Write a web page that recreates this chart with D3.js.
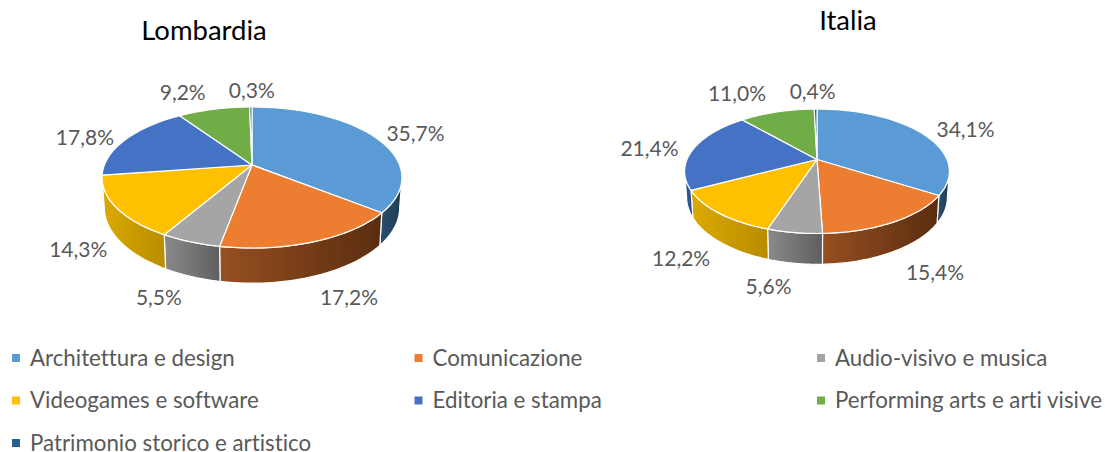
<!DOCTYPE html>
<html><head><meta charset="utf-8">
<script src="https://cdn.jsdelivr.net/npm/d3@7"></script>
<style>html,body{margin:0;padding:0;background:#fff;overflow:hidden}svg{display:block}text{font-family:Lato,"Open Sans",sans-serif;font-variant-ligatures:none}</style>
</head><body><svg id="c" width="1105" height="452"></svg>
<script>
const categories = ["Architettura e design","Comunicazione","Audio-visivo e musica","Videogames e software","Editoria e stampa","Performing arts e arti visive","Patrimonio storico e artistico"];
const lombardiaValues = [35.7,17.2,5.5,14.3,17.8,9.2,0.3];
const italiaValues = [34.1,15.4,5.6,12.2,21.4,11.0,0.4];
const colors = ["#5b9bd5","#ed7d31","#a5a5a5","#ffc000","#4472c4","#70ad47","#255e91"];
const wallLeft = ["#2a5070","#964f20","#8a8a8a","#dcaa00","#32589c","#4f7d32","#1c466c"];
const wallRight = ["#1f3b53","#5a2d10","#5f5f5f","#b88c00","#2a4d88","#456e2c","#173a5a"];

const charts = [
  {title:"Lombardia", values:lombardiaValues, titleX:204, titleY:30, cx:252, y0:165, R:147.6, S:68.3, k:0.177, d:29,
   nudge:[[40,-3.5],[35,56],[-31.6,56],[-38,42.6],[-41,-2],[-31,-17],[1,-16]]},
  {title:"Italia", values:italiaValues, titleX:848, titleY:20, cx:817, y0:159.5, R:130, S:60, k:0.189, d:25,
   nudge:[[44,-3],[41,51],[-26,54],[-38,45],[-44,0],[-40,-18],[-3,-17]]}
];
const svg = d3.select("#c");
const defs = svg.append("defs");
const fmt = v => v.toFixed(1).replace(".",",") + "%";
const pie = d3.pie().sort(null).value(d=>d);
const line = d3.line();

charts.forEach((ch,ci)=>{
  const g = svg.append("g");
  const top = t=>{const u=Math.sin(t),v=Math.cos(t),den=1+ch.k*v;return [ch.cx+ch.R*u/den, ch.y0-ch.S*v/den];};
  const bot = t=>{const u=Math.sin(t),v=Math.cos(t),den=1+ch.k*v;return [ch.cx+0.985*ch.R*u/den, ch.y0-ch.S*v/den+ch.d/den];};
  const samples=(a,b)=>d3.range(0,41).map(i=>a+(b-a)*i/40);
  const arcs = pie(ch.values);
  const vis0 = Math.acos(-ch.k), vis1 = 2*Math.PI-vis0;
  // side walls
  arcs.forEach((a,i)=>{
    const s=Math.max(a.startAngle,vis0), e=Math.min(a.endAngle,vis1);
    if(e<=s) return;
    const ts=samples(s,e);
    const pts=[...ts.map(t=>top(t)),...ts.slice().reverse().map(t=>bot(t))];
    const xs=d3.extent(pts,p=>p[0]);
    const id=`w${ci}_${i}`;
    const gr=defs.append("linearGradient").attr("id",id).attr("gradientUnits","userSpaceOnUse")
      .attr("x1",xs[0]).attr("x2",xs[1]).attr("y1",0).attr("y2",0);
    gr.append("stop").attr("offset",0).attr("stop-color",wallLeft[i]);
    gr.append("stop").attr("offset",1).attr("stop-color",wallRight[i]);
    g.append("path").attr("d",line(pts)+"Z").attr("fill",`url(#${id})`).attr("stroke","#fff").attr("stroke-width",1.2).attr("stroke-linejoin","round");
  });
  // top slices
  arcs.forEach((a,i)=>{
    const pts=[[ch.cx,ch.y0],...samples(a.startAngle,a.endAngle).map(t=>top(t))];
    g.append("path").attr("d",line(pts)+"Z").attr("fill",colors[i]).attr("stroke","#fff").attr("stroke-width",1.2).attr("stroke-linejoin","round");
  });
  // labels
  arcs.forEach((a,i)=>{
    const p=top((a.startAngle+a.endAngle)/2);
    g.append("text").attr("x",p[0]+ch.nudge[i][0]).attr("y",p[1]+ch.nudge[i][1]).attr("dy","0.35em")
      .attr("text-anchor","middle").attr("font-size",21).attr("fill","#595959").text(fmt(a.data));
  });
  svg.append("text").attr("x",ch.titleX).attr("y",ch.titleY).attr("dy","0.35em").attr("text-anchor","middle")
    .attr("font-size",27.5).attr("fill","#000").text(ch.title);
});

// legend
const legX = d3.scalePoint().domain([0,1,2]).range([12,817]);
const legY = d3.scalePoint().domain([0,1,2]).range([358,443]);
categories.forEach((c,i)=>{
  const col=i%3,row=Math.floor(i/3);
  const x=legX(col), y=legY(row);
  svg.append("rect").attr("x",x).attr("y",y-4).attr("width",8).attr("height",8).attr("fill",colors[i]);
  svg.append("text").attr("x",x+18).attr("y",y).attr("dy","0.35em").attr("font-size",22.3).attr("fill","#595959").text(c);
});
</script></body></html>
